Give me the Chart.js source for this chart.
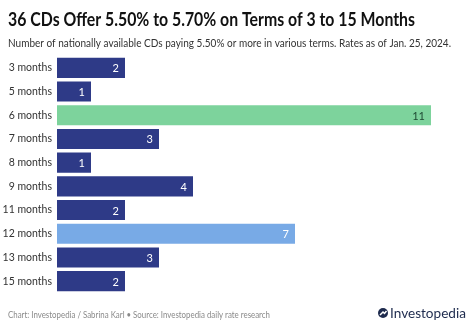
<!DOCTYPE html>
<html>
<head>
<meta charset="utf-8">
<script src="https://cdn.jsdelivr.net/npm/chart.js@4.4.1/dist/chart.umd.min.js"></script>
<style>
  html, body { margin: 0; padding: 0; background: #fff; }
  #wrap { width: 474px; height: 330px; position: relative; }
</style>
</head>
<body>
<div id="wrap"><canvas id="myChart" width="474" height="330"></canvas></div>
<script>
// data
const terms = ["3 months", "5 months", "6 months", "7 months", "8 months", "9 months", "11 months", "12 months", "13 months", "15 months"];
const cdCounts = [2, 1, 11, 3, 1, 4, 2, 7, 3, 2];
const barColors = ["#2e3a87", "#2e3a87", "#7dd39c", "#2e3a87", "#2e3a87", "#2e3a87", "#2e3a87", "#78aae6", "#2e3a87", "#2e3a87"];
const labelColors = ["#fff", "#fff", "#1f4a33", "#fff", "#fff", "#fff", "#fff", "#fff", "#fff", "#fff"];

const titleText = "36 CDs Offer 5.50% to 5.70% on Terms of 3 to 15 Months";
const subText = "Number of nationally available CDs paying 5.50% or more in various terms. Rates as of Jan. 25, 2024.";
const footText = "Chart: Investopedia / Sabrina Karl \u2022 Source: Investopedia daily rate research";

const FONT = "Lato, 'Noto Sans', sans-serif";

// draw text squeezed to the width it has in the picture
function fitText(ctx, text, x, y, width, weight, size) {
  ctx.font = weight + " " + size + "px " + FONT;
  const w = ctx.measureText(text).width;
  ctx.save();
  ctx.translate(x, y);
  ctx.scale(width / w, 1);
  ctx.fillText(text, 0, 0);
  ctx.restore();
}

const decor = {
  id: "decor",
  afterDatasetsDraw(chart) {
    const ctx = chart.ctx;
    const meta = chart.getDatasetMeta(0);
    ctx.save();
    ctx.font = "11px " + FONT;
    ctx.textAlign = "right";
    ctx.textBaseline = "middle";
    meta.data.forEach((bar, i) => {
      ctx.fillStyle = labelColors[i];
      ctx.fillText(cdCounts[i], bar.x - 6, bar.y + 1);
    });
    ctx.restore();
  },
  afterDraw(chart) {
    const ctx = chart.ctx;
    ctx.save();
    ctx.textAlign = "left";
    ctx.textBaseline = "alphabetic";
    ctx.fillStyle = "#111";
    fitText(ctx, titleText, 8, 25.5, 407, "bold", 18.5);
    ctx.fillStyle = "#333";
    fitText(ctx, subText, 8, 47, 443, "normal", 11);
    ctx.fillStyle = "#8a8a8a";
    fitText(ctx, footText, 8, 318, 262, "normal", 9.5);

    // logo
    ctx.fillStyle = "#1d2a4d";
    ctx.beginPath();
    ctx.arc(383, 313, 5, 0, Math.PI * 2);
    ctx.fill();
    ctx.strokeStyle = "#fff";
    ctx.lineWidth = 1.5;
    ctx.beginPath();
    ctx.moveTo(380, 315);
    ctx.lineTo(383, 312);
    ctx.lineTo(384.5, 313.5);
    ctx.lineTo(386.5, 311);
    ctx.stroke();
    ctx.fillStyle = "#1d2a4d";
    fitText(ctx, "Investopedia", 390, 318, 76, "normal", 14);
    ctx.restore();
  }
};

const config = {
  type: "bar",
  data: {
    labels: terms,
    datasets: [{
      data: cdCounts,
      backgroundColor: barColors,
      borderWidth: 0,
      barPercentage: 0.85,
      categoryPercentage: 1
    }]
  },
  options: {
    indexAxis: "y",
    responsive: false,
    animation: false,
    layout: { padding: { top: 56, bottom: 37, right: 43, left: 0 } },
    plugins: {
      legend: { display: false },
      tooltip: { enabled: false }
    },
    scales: {
      x: { display: false, min: 0, max: 11 },
      y: {
        grid: { display: false, drawTicks: false },
        border: { display: false },
        ticks: { color: "#333", font: { size: 10.5, family: FONT }, padding: 5 },
        afterFit(scale) { scale.width = 57; }
      }
    }
  },
  plugins: [decor]
};

const myChart = new Chart(document.getElementById("myChart"), config);
</script>
</body>
</html>
